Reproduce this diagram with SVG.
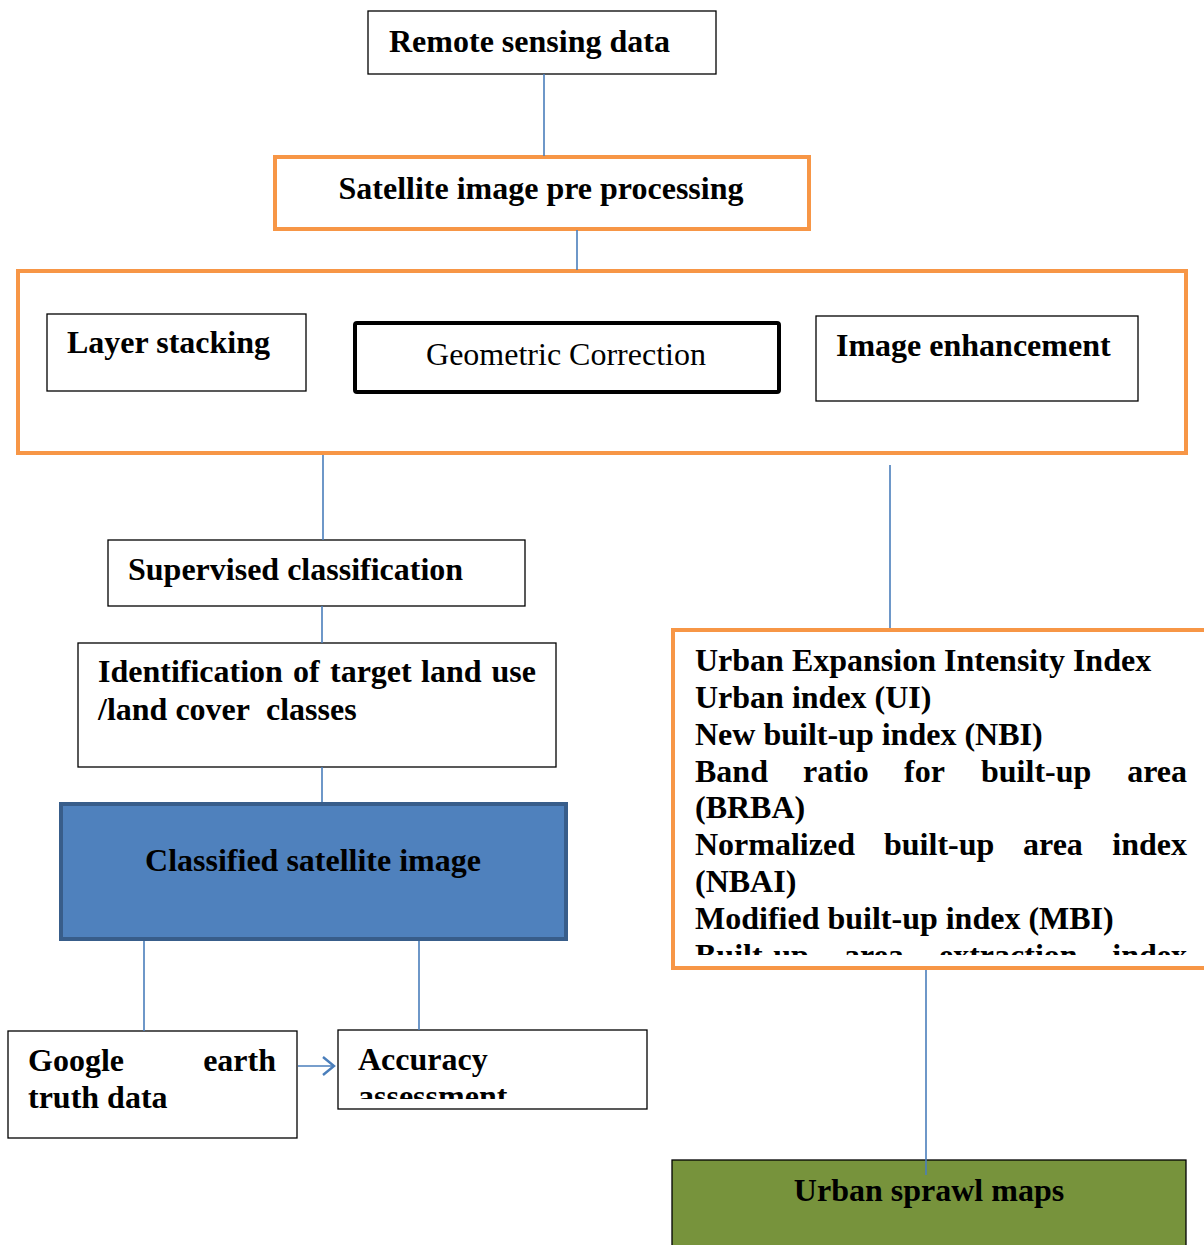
<svg xmlns="http://www.w3.org/2000/svg" width="1204" height="1245" viewBox="0 0 1204 1245">
<style>
text{font-family:"Liberation Serif","Times New Roman",serif;font-size:32px;fill:#000}
.b{font-weight:bold}
.box{fill:#fff;stroke:#000;stroke-width:1.3}
.or{fill:#fff;stroke:#F79646;stroke-width:4}
.con{stroke:#4A7EBB;stroke-width:1.6;fill:none}
</style>
<defs>
<marker id="arr" markerWidth="16" markerHeight="22" refX="13" refY="11" orient="auto" markerUnits="userSpaceOnUse">
<path d="M2,2 L13,11 L2,20" fill="none" stroke="#4A7EBB" stroke-width="2.4"/>
</marker>
<clipPath id="clipU"><rect x="672" y="629" width="540" height="326"/></clipPath>
<clipPath id="clipA"><rect x="338" y="1030" width="310" height="69"/></clipPath>
</defs>

<g id="remote">
<rect class="box" x="368" y="11" width="348" height="63"/>
<text class="b" x="389" y="52">Remote sensing data</text>
</g>

<g id="preproc">
<rect class="or" x="275" y="157" width="534" height="72"/>
<text class="b" x="541" y="199" text-anchor="middle">Satellite image pre processing</text>
</g>

<g id="preproc-group">
<rect class="or" x="18" y="271" width="1168" height="182"/>
</g>

<g id="layer">
<rect class="box" x="47" y="314" width="259" height="77"/>
<text class="b" x="67" y="353">Layer stacking</text>
</g>

<g id="geom">
<rect x="355" y="323" width="424" height="69" rx="2" fill="#fff" stroke="#000" stroke-width="4"/>
<text x="566" y="365" text-anchor="middle">Geometric Correction</text>
</g>

<g id="enhance">
<rect class="box" x="816" y="316" width="322" height="85"/>
<text class="b" x="836" y="356">Image enhancement</text>
</g>

<g id="supervised">
<rect class="box" x="108" y="540" width="417" height="66"/>
<text class="b" x="128" y="580">Supervised classification</text>
</g>

<g id="identification">
<rect class="box" x="78" y="643" width="478" height="124"/>
<text class="b" y="682"><tspan x="98">Identification</tspan><tspan x="293">of</tspan><tspan x="330">target</tspan><tspan x="421">land</tspan><tspan x="536" text-anchor="end">use</tspan></text>
<text class="b" y="720"><tspan x="98">/land cover</tspan><tspan x="266">classes</tspan></text>
</g>

<g id="classified">
<rect x="61" y="804" width="505" height="135" fill="#4F81BD" stroke="#385D8A" stroke-width="4"/>
<text class="b" x="313" y="871" text-anchor="middle">Classified satellite image</text>
</g>

<g id="google">
<rect class="box" x="8" y="1031" width="289" height="107"/>
<text class="b" y="1071"><tspan x="28">Google</tspan><tspan x="276" text-anchor="end">earth</tspan></text>
<text class="b" x="28" y="1108">truth data</text>
</g>

<g id="accuracy">
<rect class="box" x="338" y="1030" width="309" height="79"/>
<g clip-path="url(#clipA)">
<text class="b" x="358" y="1070">Accuracy</text>
<text class="b" x="358" y="1107">assessment</text>
</g>
</g>

<g id="indices">
<rect class="or" x="673" y="630" width="545" height="338"/>
<g clip-path="url(#clipU)">
<text class="b" x="695" y="671">Urban Expansion Intensity Index</text>
<text class="b" x="695" y="708">Urban index (UI)</text>
<text class="b" x="695" y="745">New built-up index (NBI)</text>
<text class="b" y="782"><tspan x="695">Band</tspan><tspan x="803">ratio</tspan><tspan x="904">for</tspan><tspan x="981">built-up</tspan><tspan x="1187" text-anchor="end">area</tspan></text>
<text class="b" x="695" y="818">(BRBA)</text>
<text class="b" y="855"><tspan x="695">Normalized</tspan><tspan x="884">built-up</tspan><tspan x="1023">area</tspan><tspan x="1187" text-anchor="end">index</tspan></text>
<text class="b" x="695" y="892">(NBAI)</text>
<text class="b" x="695" y="929">Modified built-up index (MBI)</text>
<text class="b" y="966"><tspan x="695">Built-up</tspan><tspan x="844">area</tspan><tspan x="939">extraction</tspan><tspan x="1187" text-anchor="end">index</tspan></text>
</g>
</g>

<g id="sprawl">
<rect x="672" y="1160" width="514" height="95" fill="#77933C" stroke="#000" stroke-width="1.3"/>
<text class="b" x="929" y="1201" text-anchor="middle">Urban sprawl maps</text>
</g>

<g id="connectors">
<line class="con" x1="544" y1="74" x2="544" y2="156"/>
<line class="con" x1="577" y1="230" x2="577" y2="270"/>
<line class="con" x1="323" y1="455" x2="323" y2="540"/>
<line class="con" x1="890" y1="465" x2="890" y2="628"/>
<line class="con" x1="322" y1="606" x2="322" y2="643"/>
<line class="con" x1="322" y1="767" x2="322" y2="802"/>
<line class="con" x1="144" y1="941" x2="144" y2="1031"/>
<line class="con" x1="419" y1="941" x2="419" y2="1030"/>
<line class="con" x1="926" y1="970" x2="926" y2="1175"/>
<line class="con" x1="298" y1="1066" x2="334" y2="1066" stroke-width="2.4" marker-end="url(#arr)"/>
</g>
</svg>
